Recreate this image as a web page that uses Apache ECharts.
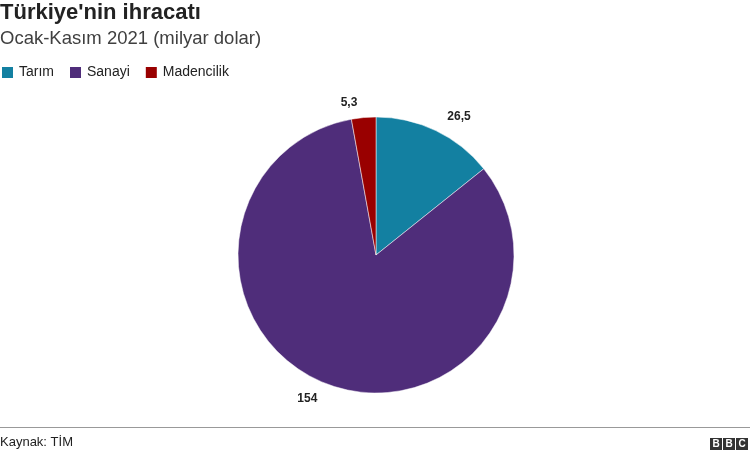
<!DOCTYPE html>
<html><head><meta charset="utf-8">
<script src="https://cdn.jsdelivr.net/npm/echarts@6/dist/echarts.min.js"></script>
<style>html,body{margin:0;padding:0;background:#fff}#c{width:750px;height:455px}</style>
</head><body><div id="c"></div>
<script>
const categories = ['Tarım', 'Sanayi', 'Madencilik'];
const values = [26.5, 154, 5.3];
const labels = ['26,5', '154', '5,3'];
const colors = ['#1380A1', '#4F2D7A', '#990000'];

const chart = echarts.init(document.getElementById('c'));
const F = 'Liberation Sans, Arial, Helvetica, sans-serif';
chart.setOption({
  animation: false,
  title: [
    {text: "Türkiye'nin ihracatı", left: 0, top: 2, padding: 0, textStyle: {fontFamily: F, fontSize: 22, fontWeight: 'bold', color: '#222'}},
    {text: 'Ocak-Kasım 2021 (milyar dolar)', left: 0, top: 29, padding: 0, textStyle: {fontFamily: F, fontSize: 18.5, fontWeight: 'normal', color: '#404040'}},
    {text: 'Kaynak: TİM', left: 0, top: 436, padding: 0, textStyle: {fontFamily: F, fontSize: 13, fontWeight: 'normal', color: '#222'}}
  ],
  legend: {
    left: 0, top: 65, padding: 0, itemWidth: 13, itemHeight: 13, itemGap: 14, icon: 'rect',
    textStyle: {fontFamily: F, fontSize: 14, color: '#222', padding: [0, 0, 0, 0]},
    data: categories
  },
  series: [{
    type: 'pie',
    center: [376, 255],
    radius: [0, 138],
    startAngle: 90,
    clockwise: true,
    data: categories.map((c, i) => ({name: c, value: values[i], itemStyle: {color: colors[i]}, label: {formatter: labels[i]}})),
    itemStyle: {borderColor: '#fff', borderWidth: 0.5},
    label: {show: true, position: 'outside', fontFamily: F, fontSize: 12, fontWeight: 'bold', color: '#222'},
    labelLine: {show: false, length: 15, length2: 0},
    emphasis: {disabled: true}
  }],
  graphic: [
    {type: 'line', shape: {x1: 0, y1: 427.5, x2: 750, y2: 427.5}, style: {stroke: '#999', lineWidth: 1}},
    {type: 'group', left: 710, top: 438, children: [
      {type: 'rect', shape: {x: 0, y: 0, width: 12, height: 12}, style: {fill: '#333'}},
      {type: 'text', style: {x: 6, y: 6.5, text: 'B', fill: '#fff', font: 'bold 10px ' + F, align: 'center', verticalAlign: 'middle'}},
      {type: 'rect', shape: {x: 13, y: 0, width: 12, height: 12}, style: {fill: '#333'}},
      {type: 'text', style: {x: 19, y: 6.5, text: 'B', fill: '#fff', font: 'bold 10px ' + F, align: 'center', verticalAlign: 'middle'}},
      {type: 'rect', shape: {x: 26, y: 0, width: 12, height: 12}, style: {fill: '#333'}},
      {type: 'text', style: {x: 32, y: 6.5, text: 'C', fill: '#fff', font: 'bold 10px ' + F, align: 'center', verticalAlign: 'middle'}}
    ]}
  ]
});
</script></body></html>
